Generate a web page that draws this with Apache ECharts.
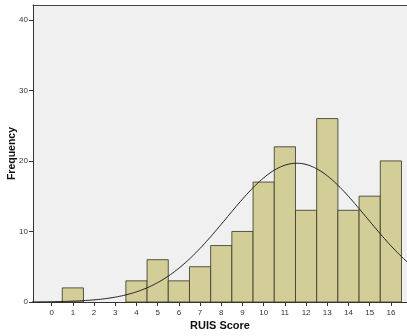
<!DOCTYPE html>
<html>
<head>
<meta charset="utf-8">
<script src="https://cdn.jsdelivr.net/npm/echarts@6/dist/echarts.min.js"></script>
<style>
html,body{margin:0;padding:0;background:#fff;}
#c{width:407px;height:336px;}
</style>
</head>
<body>
<div id="c"></div>
<script>
// Data
var scores = [0, 1, 2, 3, 4, 5, 6, 7, 8, 9, 10, 11, 12, 13, 14, 15, 16];
var frequencies = [0, 2, 0, 0, 3, 6, 3, 5, 8, 10, 17, 22, 13, 26, 13, 15, 20];
var yTicks = [0, 10, 20, 30, 40];
var xTicks = scores;

// Fitted normal curve from the histogram counts (as SPSS draws it)
var n = 0, sum = 0, sumSq = 0;
for (var i = 0; i < scores.length; i++) {
  n += frequencies[i];
  sum += scores[i] * frequencies[i];
  sumSq += scores[i] * scores[i] * frequencies[i];
}
var mean = sum / n;
var sd = Math.sqrt((sumSq - n * mean * mean) / (n - 1));
var curve = [];
for (var x = -1; x <= 17.0001; x += 0.1) {
  var y = n / (sd * Math.sqrt(2 * Math.PI)) * Math.exp(-0.5 * Math.pow((x - mean) / sd, 2));
  curve.push([x, y]);
}

var barData = [];
for (var j = 0; j < scores.length; j++) {
  if (frequencies[j] > 0) barData.push([scores[j], frequencies[j]]);
}

var chart = echarts.init(document.getElementById('c'), null, {renderer: 'canvas'});
var lab = {fontFamily: 'Liberation Sans, Arial, sans-serif', fontSize: 8, color: '#333'};
chart.setOption({
  animation: false,
  backgroundColor: '#fff',
  grid: {left: 33, right: 0, top: 5, bottom: 34, show: true, backgroundColor: '#f0f0f0', borderWidth: 0,
         containLabel: false, outerBoundsMode: 'none'},
  xAxis: [{
    type: 'value', min: -0.88, max: 16.76,
    name: 'RUIS Score', nameLocation: 'middle', nameGap: 18, nameMoveOverlap: false,
    nameTextStyle: {fontFamily: 'Liberation Sans, Arial, sans-serif', fontSize: 11, fontWeight: 'bold', color: '#111'},
    axisLine: {show: true, onZero: false, lineStyle: {color: '#333', width: 1}},
    axisTick: {show: true, length: 4, customValues: xTicks, lineStyle: {color: '#333'}},
    axisLabel: Object.assign({margin: 7, customValues: xTicks}, lab),
    splitLine: {show: false}
  }, {
    type: 'value', position: 'top', min: -0.88, max: 16.76,
    axisLine: {show: true, onZero: false, lineStyle: {color: '#444', width: 1}},
    axisTick: {show: false}, axisLabel: {show: false}, splitLine: {show: false}
  }],
  yAxis: {
    type: 'value', min: 0, max: 42.1,
    name: 'Frequency', nameLocation: 'middle', nameGap: 15, nameMoveOverlap: false,
    nameTextStyle: {fontFamily: 'Liberation Sans, Arial, sans-serif', fontSize: 10.5, fontWeight: 'bold', color: '#111'},
    axisLine: {show: true, onZero: false, lineStyle: {color: '#333', width: 1}},
    axisTick: {show: true, length: 4, customValues: yTicks, lineStyle: {color: '#333'}},
    axisLabel: Object.assign({margin: 5, customValues: yTicks}, lab),
    splitLine: {show: false}
  },
  series: [{
    type: 'custom',
    xAxisIndex: 0,
    data: barData,
    renderItem: function (params, api) {
      var x = api.value(0), v = api.value(1);
      var p0 = api.coord([x - 0.5, v]);
      var p1 = api.coord([x + 0.5, 0]);
      return {
        type: 'rect',
        shape: {x: p0[0], y: p0[1], width: p1[0] - p0[0], height: p1[1] - p0[1]},
        style: {fill: '#d3ce98', stroke: 'rgba(60,60,45,0.85)', lineWidth: 1}
      };
    }
  }, {
    type: 'line',
    xAxisIndex: 0,
    data: curve,
    showSymbol: false,
    smooth: false,
    clip: true,
    lineStyle: {color: '#222', width: 1},
    z: 5
  }]
});
</script>
</body>
</html>
